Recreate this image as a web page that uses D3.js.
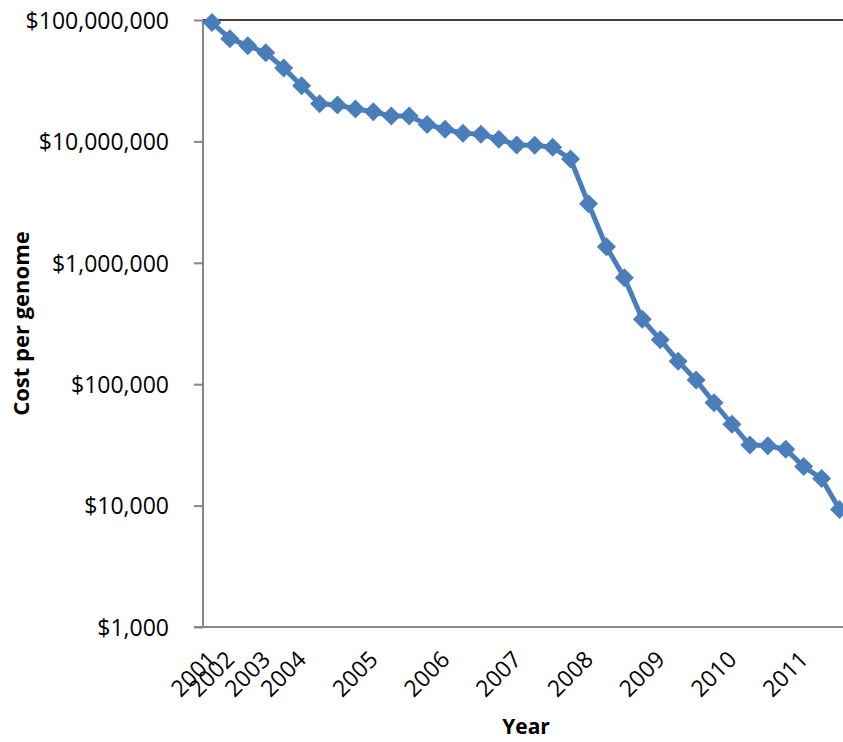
<!DOCTYPE html>
<html>
<head>
<meta charset="utf-8">
<script src="https://cdn.jsdelivr.net/npm/d3@7"></script>
<style>
  html, body { margin: 0; padding: 0; background: #fff; }
  svg { display: block; }
  text { font-family: "Open Sans", "Liberation Sans", sans-serif; fill: #000; }
</style>
</head>
<body>
<script>
// Sequencing cost per genome, one value per quarterly (early: half-yearly) sample
const periods = [
  "Sep 2001", "Mar 2002", "Sep 2002", "Mar 2003", "Oct 2003",
  "Jan 2004", "Apr 2004", "Jul 2004", "Oct 2004",
  "Jan 2005", "Apr 2005", "Jul 2005", "Oct 2005",
  "Jan 2006", "Apr 2006", "Jul 2006", "Oct 2006",
  "Jan 2007", "Apr 2007", "Jul 2007", "Oct 2007",
  "Jan 2008", "Apr 2008", "Jul 2008", "Oct 2008",
  "Jan 2009", "Apr 2009", "Jul 2009", "Oct 2009",
  "Jan 2010", "Apr 2010", "Jul 2010", "Oct 2010",
  "Jan 2011", "Apr 2011", "Jul 2011"
];
const costPerGenome = [
  95263072, 70175437, 61448422, 53751684, 40157554,
  28780376, 20442576, 19934346, 18519312,
  17534970, 16159699, 16180224, 13801124,
  12585659, 11671857, 11454115, 10413593,
  9347639, 9299040, 8956503, 7147571,
  3063820, 1352982, 752080, 342502,
  232735, 154714, 108065, 70333,
  46774, 31512, 31125, 29092,
  20963, 16712, 9300
];
// Year labels shown on the category axis (blank where no label)
const yearLabels = [
  "2001", "2002", "", "2003", "",
  "2004", "", "", "",
  "2005", "", "", "",
  "2006", "", "", "",
  "2007", "", "", "",
  "2008", "", "", "",
  "2009", "", "", "",
  "2010", "", "", "",
  "2011", "", ""
];
const yTicks = [1000, 10000, 100000, 1000000, 10000000, 100000000];

const W = 843, H = 742;
const margin = { left: 203, top: 20, bottom: 115 };
const plotRight = 848.5;

const svg = d3.select("body").append("svg")
  .attr("width", W).attr("height", H);

const x = d3.scaleBand()
  .domain(d3.range(periods.length))
  .range([margin.left, plotRight])
  .paddingInner(0).paddingOuter(0);

const y = d3.scaleLog()
  .domain([1000, 100000000])
  .range([H - margin.bottom, margin.top]);

const fmt = d3.format("$,.0f");
const axisColor = "#868686";

// top border line of the plot
svg.append("line")
  .attr("x1", margin.left).attr("x2", W)
  .attr("y1", y(100000000)).attr("y2", y(100000000))
  .attr("stroke", "#000").attr("stroke-width", 1.5);

// y axis
const yAxis = svg.append("g")
  .attr("transform", `translate(${margin.left},0)`)
  .call(d3.axisLeft(y).tickValues(yTicks).tickFormat(fmt).tickSize(9).tickPadding(25));
yAxis.select(".domain").attr("stroke", axisColor).attr("stroke-width", 2)
  .attr("d", `M0,${y(100000000)}V${y(1000)}`);
yAxis.selectAll(".tick line").attr("stroke", axisColor).attr("stroke-width", 2);
yAxis.selectAll(".tick text")
  .style("font-size", "23px")
  .attr("dy", "0.36em");

// x axis
const xAxisY = y(1000);
const xAxis = svg.append("g")
  .attr("transform", `translate(0,${xAxisY})`)
  .call(d3.axisBottom(x).tickFormat(i => yearLabels[i]).tickSize(0).tickPadding(0));
xAxis.select(".domain").attr("stroke", axisColor).attr("stroke-width", 2)
  .attr("d", `M${margin.left - 9},0H${W}`);
xAxis.selectAll(".tick text")
  .style("font-size", "23px")
  .attr("text-anchor", "end")
  .attr("dy", null)
  .attr("y", 0)
  .attr("transform", "translate(6,34) rotate(-45)");

// series line
const line = d3.line()
  .x((d, i) => x(i) + x.bandwidth() / 2)
  .y(d => y(d));

const color = "#4a7ebb";
svg.append("path")
  .datum(costPerGenome)
  .attr("fill", "none")
  .attr("stroke", color)
  .attr("stroke-width", 5)
  .attr("stroke-linejoin", "round")
  .attr("d", line);

// diamond markers
const diamond = d3.symbol().type(d3.symbolSquare).size(180);
svg.append("g")
  .selectAll("path")
  .data(costPerGenome)
  .join("path")
  .attr("d", diamond)
  .attr("fill", color)
  .attr("transform", (d, i) => `translate(${x(i) + x.bandwidth() / 2},${y(d)}) rotate(45)`);

// axis titles
svg.append("text")
  .attr("x", 526).attr("y", 734)
  .attr("text-anchor", "middle")
  .style("font-size", "21px").style("font-weight", "bold")
  .text("Year");

svg.append("text")
  .attr("transform", `translate(29,${(y(1000) + y(100000000)) / 2}) rotate(-90)`)
  .attr("text-anchor", "middle")
  .style("font-size", "22px").style("font-weight", "bold")
  .text("Cost per genome");
</script>
</body>
</html>
